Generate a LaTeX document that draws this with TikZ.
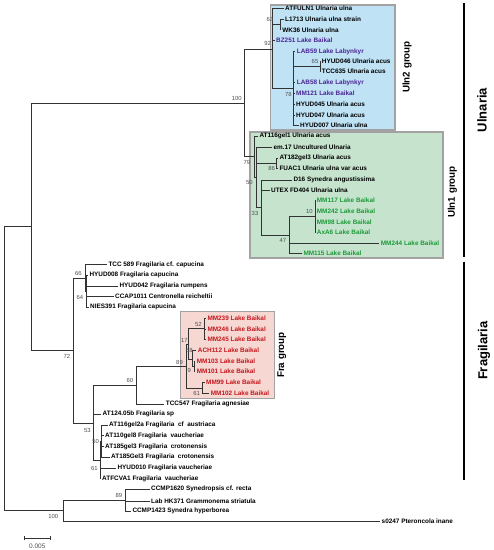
\documentclass[tikz,border=0pt]{standalone}
\usepackage{fontspec}
\setmainfont{Liberation Sans}
\definecolor{edgec}{HTML}{333333}
\definecolor{bsc}{HTML}{505050}
\definecolor{bluef}{HTML}{BFE2F5}
\definecolor{greenf}{HTML}{C6E4CD}
\definecolor{pinkf}{HTML}{F6D7D2}
\definecolor{boxd}{HTML}{A2A2A2}
\definecolor{purp}{HTML}{4B2594}
\definecolor{grn}{HTML}{1E9A3A}
\definecolor{redc}{HTML}{C4181F}
\newcommand\leaffont{\fontsize{6.4}{7}\selectfont\bfseries}
\newcommand\bsfont{\fontsize{5.9}{6.5}\selectfont}
\newcommand\grpfont{\fontsize{9.8}{11}\selectfont\bfseries}
\newcommand\bigfont{\fontsize{13}{15}\selectfont\bfseries}
\begin{document}
\begin{tikzpicture}[x=1pt,y=-1pt,
  br/.style={draw=edgec,line width=0.8pt},
  leaf/.style={anchor=west,inner xsep=1.5pt,inner ysep=0pt,font=\leaffont,text=black},
  pu/.style={text=purp},
  gr/.style={text=grn},
  rd/.style={text=redc},
  bs/.style={font=\bsfont,text=bsc,inner sep=0pt},
  grp/.style={font=\grpfont,rotate=90,inner sep=0pt},
  big/.style={font=\bigfont,rotate=90,inner sep=0pt},
  gbox/.style={draw=boxd,line width=1.2pt}]
\useasboundingbox (0,0) rectangle (494,550);
% group boxes
\path[gbox,fill=bluef] (270.7,5) rectangle (395,130);
\path[gbox,fill=greenf] (250,132) rectangle (443,258);
\path[gbox,fill=pinkf] (180.7,311.7) rectangle (274.3,398.3);
% internal nodes
\coordinate (r) at (4,369);
\coordinate (a) at (31.7,226.7);
\coordinate (u100) at (244.3,103.3);
\coordinate (u92) at (272.3,49);
\coordinate (u63) at (280.7,24.7);
\coordinate (u78) at (293.3,88.3);
\coordinate (u65) at (320,66.7);
\coordinate (u79) at (254.3,156.7);
\coordinate (u50) at (256.7,177);
\coordinate (u86) at (276.7,163.3);
\coordinate (u33) at (261.7,207.5);
\coordinate (u47) at (289.3,235);
\coordinate (u10) at (315,216.7);
\coordinate (f72) at (73.3,350);
\coordinate (f66) at (85,278);
\coordinate (f64) at (86.7,291.3);
\coordinate (f53) at (93.3,423);
\coordinate (f60) at (136.7,385.7);
\coordinate (f89) at (186,366);
\coordinate (f17) at (188.5,344);
\coordinate (f52) at (204.5,328.8);
\coordinate (f58) at (192.5,359);
\coordinate (f9) at (194.3,366.3);
\coordinate (f61b) at (202.7,388);
\coordinate (f61) at (100,460);
\coordinate (f50) at (101.7,441.3);
\coordinate (b100) at (63,510.7);
\coordinate (b89) at (125,500);
% leaves
\node[leaf] (l01) at (283.5,8.3) {ATFULN1 Ulnaria ulna};
\node[leaf] (l02) at (283.5,19.3) {L1713 Ulnaria ulna strain};
\node[leaf] (l03) at (280.7,30) {WK36 Ulnaria ulna};
\node[leaf,pu] (l04) at (274.5,40.7) {BZ251 Lake Baikal};
\node[leaf,pu] (l05) at (295.2,51.7) {LAB59 Lake Labynkyr};
\node[leaf] (l06) at (320.2,61.7) {HYUD046 Ulnaria acus};
\node[leaf] (l07) at (320.2,71.7) {TCC635 Ulnaria acus};
\node[leaf,pu] (l08) at (295.2,82.7) {LAB58 Lake Labynkyr};
\node[leaf,pu] (l09) at (294.5,93.3) {MM121 Lake Baikal};
\node[leaf] (l10) at (294.5,104.3) {HYUD045 Ulnaria acus};
\node[leaf] (l11) at (294.5,115) {HYUD047 Ulnaria acus};
\node[leaf] (l12) at (298.5,125) {HYUD007 Ulnaria ulna};
\node[leaf] (l13) at (257.8,136) {AT116gel1 Ulnaria acus};
\node[leaf] (l14) at (271.8,147.3) {em.17 Uncultured Ulnaria};
\node[leaf] (l15) at (277.8,158.3) {AT182gel3 Ulnaria acus};
\node[leaf] (l16) at (277.8,168.3) {FUAC1 Ulnaria ulna var acus};
\node[leaf] (l17) at (291.8,180) {D16 Synedra angustissima};
\node[leaf] (l18) at (269.5,190) {UTEX FD404 Ulnaria ulna};
\node[leaf,gr] (l19) at (315.2,200.7) {MM117 Lake Baikal};
\node[leaf,gr] (l20) at (315.2,211) {MM242 Lake Baikal};
\node[leaf,gr] (l21) at (315.2,222) {MM98 Lake Baikal};
\node[leaf,gr] (l22) at (315.2,232.7) {AxA6 Lake Baikal};
\node[leaf,gr] (l23) at (379.2,243.3) {MM244 Lake Baikal};
\node[leaf,gr] (l24) at (301.8,253.3) {MM115 Lake Baikal};
\node[leaf] (l25) at (106.8,264.7) {TCC 589 Fragilaria cf. capucina};
\node[leaf] (l26) at (87.8,275.3) {HYUD008 Fragilaria capucina};
\node[leaf] (l27) at (117.8,286) {HYUD042 Fragilaria rumpens};
\node[leaf] (l28) at (113.5,296.7) {CCAP1011 Centronella reicheltii};
\node[leaf] (l29) at (88.5,307.3) {NIES391 Fragilaria capucina};
\node[leaf,rd] (l30) at (205.8,318.3) {MM239 Lake Baikal};
\node[leaf,rd] (l31) at (205.8,329) {MM246 Lake Baikal};
\node[leaf,rd] (l32) at (205.8,339.3) {MM245 Lake Baikal};
\node[leaf,rd] (l33) at (196.2,350.7) {ACH112 Lake Baikal};
\node[leaf,rd] (l34) at (195.2,361) {MM103 Lake Baikal};
\node[leaf,rd] (l35) at (195.2,371.7) {MM101 Lake Baikal};
\node[leaf,rd] (l36) at (204.5,382.3) {MM99 Lake Baikal};
\node[leaf,rd] (l37) at (209.2,393.3) {MM102 Lake Baikal};
\node[leaf] (l38) at (164.2,404.3) {TCC547 Fragilaria agnesiae};
\node[leaf] (l39) at (101,414.3) {AT124.05b Fragilaria sp};
\node[leaf] (l40) at (107.5,425.3) {AT116gel2a Fragilaria\ \ cf\ \ austriaca};
\node[leaf] (l41) at (103.5,435.7) {AT110gel8 Fragilaria\ \ vaucheriae};
\node[leaf] (l42) at (103.5,446.7) {AT185gel3 Fragilaria\ \ crotonensis};
\node[leaf] (l43) at (109.5,457.3) {AT185Gel3 Fragilaria\ \ crotonensis};
\node[leaf] (l44) at (115.8,468) {HYUD010 Fragilaria vaucheriae};
\node[leaf] (l45) at (100.5,478.7) {ATFCVA1 Fragilaria\ \ vaucheriae};
\node[leaf] (l46) at (149.5,489) {CCMP1620 Synedropsis cf. recta};
\node[leaf] (l47) at (149.5,501.3) {Lab HK371 Grammonema striatula};
\node[leaf] (l48) at (130.8,511) {CCMP1423 Synedra hyperborea};
\node[leaf] (l49) at (380,521.7) {s0247 Pteroncola inane};
% edges between internal nodes
\foreach \p/\c in {r/a,r/b100,a/u100,a/f72,u100/u92,u100/u79,u92/u63,u92/u78,
  u78/u65,u79/u50,u50/u86,u50/u33,u33/u47,u47/u10,f72/f66,f72/f53,f66/f64,
  f53/f60,f53/f61,f60/f89,f89/f17,f89/f61b,f17/f52,f17/f58,f58/f9,f61/f50,b100/b89}
  \draw[br] (\p) |- (\c);
% edges to leaves
\foreach \p/\c in {u92/l01,u63/l02,u63/l03,u92/l04,u78/l05,u65/l06,u65/l07,
  u78/l08,u78/l09,u78/l10,u78/l11,u78/l12,u79/l13,u50/l14,u86/l15,u86/l16,
  u33/l17,u33/l18,u10/l19,u10/l20,u10/l21,u10/l22,u47/l23,u47/l24,
  f66/l25,f64/l26,f64/l27,f64/l28,f64/l29,f52/l30,f52/l31,f52/l32,f58/l33,
  f9/l34,f9/l35,f61b/l36,f61b/l37,f60/l38,f53/l39,f50/l40,f50/l41,f50/l42,
  f50/l43,f61/l44,f61/l45,b89/l46,b89/l47,b89/l48,b100/l49}
  \draw[br] (\p) |- (\c.west);
% bootstrap values
\node[bs] (s100a) at (236.7,98.3) {100};
\node[bs] (s92) at (267.7,43.3) {92};
\node[bs] (s63) at (270,19.3) {63};
\node[bs] (s65) at (315,61.7) {65};
\node[bs] (s78) at (288.3,94) {78};
\node[bs] (s79) at (247,162.7) {79};
\node[bs] (s86) at (271.7,168.3) {86};
\node[bs] (s50a) at (249.3,182.7) {50};
\node[bs] (s33) at (255,213.3) {33};
\node[bs] (s10) at (309.3,211) {10};
\node[bs] (s47) at (283,240.7) {47};
\node[bs] (s66) at (78.3,273.3) {66};
\node[bs] (s64) at (80,297.3) {64};
\node[bs] (s72) at (67,356.5) {72};
\node[bs] (s52) at (198.3,324) {52};
\node[bs] (s17) at (184.5,340) {17};
\node[bs] (s58) at (189.3,350.7) {58};
\node[bs] (s89a) at (179.5,362) {89};
\node[bs] (s9) at (189.3,370) {9};
\node[bs] (s61a) at (196.7,393.3) {61};
\node[bs] (s60) at (130,380.7) {60};
\node[bs] (s53) at (87.3,430) {53};
\node[bs] (s50b) at (95.7,441.7) {50};
\node[bs] (s61b) at (94.3,468.3) {61};
\node[bs] (s89b) at (119,495) {89};
\node[bs] (s100b) at (53.3,516) {100};
% group labels
\node[grp] (g2) at (407,67) {Uln2 group};
\node[grp] (g1) at (452.3,192) {Uln1 group};
\node[grp] (gf) at (281.7,355) {Fra group};
% genus bars
\coordinate (ut) at (464.3,3.3);
\coordinate (ub) at (464.3,256.7);
\coordinate (ft) at (464.3,261.7);
\coordinate (fb) at (464.3,480);
\draw[line width=2pt] (ut) -- (ub);
\draw[line width=2pt] (ft) -- (fb);
\node[big] (gu) at (482,110) {Ulnaria};
\node[big] (gfr) at (484,350.7) {Fragilaria};
% scale bar
\coordinate (sa) at (24,538.3);
\coordinate (sb) at (50.7,538.3);
\draw[br,line width=0.7pt] (sa) -- (sb);
\draw[br,line width=0.7pt] ([yshift=-2pt]sa) -- ([yshift=2pt]sa);
\draw[br,line width=0.7pt] ([yshift=-2pt]sb) -- ([yshift=2pt]sb);
\node[bs,font=\fontsize{6.5}{7}\selectfont] (sl) at (37.3,546.5) {0.005};
\end{tikzpicture}
\end{document}
